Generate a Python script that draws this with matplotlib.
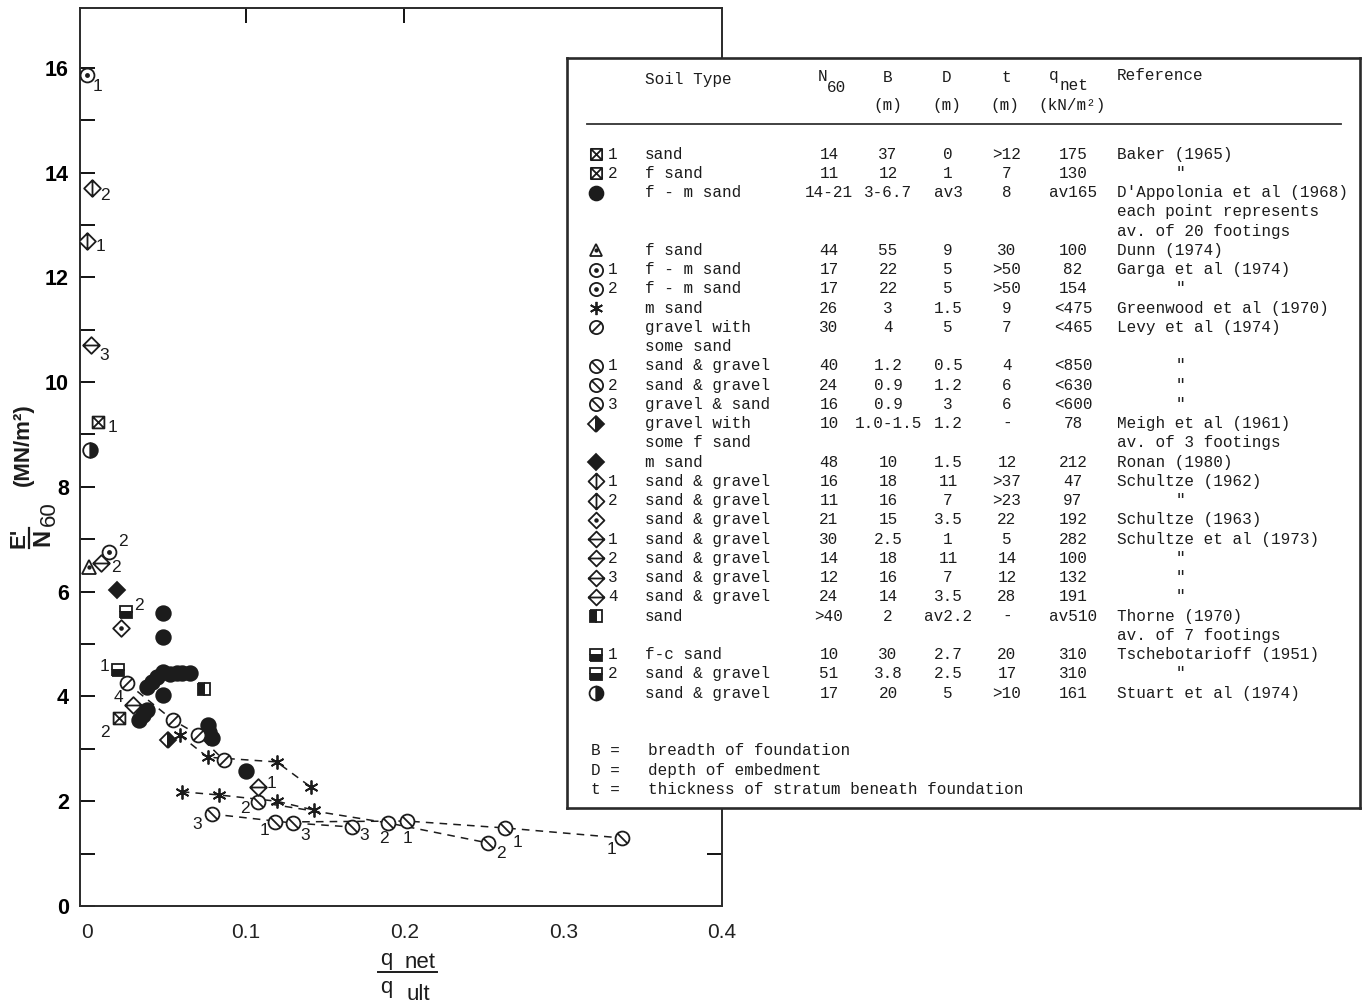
import numpy as np
import matplotlib.pyplot as plt
from matplotlib.path import Path
from matplotlib.lines import Line2D

plt.rcParams['font.family'] = ['Liberation Sans', 'DejaVu Sans']

ink = '#1c1c1c'

# E'/N60 (MN/m2) against q_net/q_ult, one group per reference
baker_x = [0.007, 0.020]
baker_y = [9.24, 3.59]
baker_n = ['1', '2']

dapp_x = [0.048, 0.048, 0.0377, 0.041, 0.044, 0.048, 0.052, 0.0566, 0.060,
          0.065, 0.048, 0.0377, 0.035, 0.033, 0.076, 0.077, 0.079, 0.100]
dapp_y = [5.59, 5.13, 4.18, 4.27, 4.37, 4.47, 4.43, 4.45, 4.45,
          4.45, 4.03, 3.74, 3.65, 3.55, 3.45, 3.32, 3.20, 2.58]

dunn_x = [0.001]
dunn_y = [6.47]

garga_x = [0.0, 0.0138]
garga_y = [15.86, 6.76]
garga_n = ['1', '2']

green1_x = [0.0585, 0.076, 0.1195, 0.141]
green1_y = [3.26, 2.84, 2.75, 2.27]
green2_x = [0.0597, 0.083, 0.1195, 0.143]
green2_y = [2.18, 2.12, 2.00, 1.83]

levy_x = [0.025, 0.054, 0.070, 0.086]
levy_y = [4.26, 3.55, 3.27, 2.79]

levy1_x = [0.1182, 0.2013, 0.2635, 0.3371]
levy1_y = [1.603, 1.622, 1.489, 1.298]
levy2_x = [0.1075, 0.1899, 0.2528]
levy2_y = [1.985, 1.584, 1.202]
levy3_x = [0.0786, 0.1296, 0.1667]
levy3_y = [1.756, 1.584, 1.508]

meigh_x = [0.051]
meigh_y = [3.17]

ronan_x = [0.019]
ronan_y = [6.03]

sch62_x = [0.0, 0.003]
sch62_y = [12.7, 13.7]
sch62_n = ['1', '2']

sch63_x = [0.0214]
sch63_y = [5.30]

sch73_x = [0.108, 0.009, 0.0025, 0.029]
sch73_y = [2.27, 6.55, 10.7, 3.84]
sch73_n = ['1', '2', '3', '4']

thorne_x = [0.074]
thorne_y = [4.14]

tsch_x = [0.0195, 0.0245]
tsch_y = [4.50, 5.61]
tsch_n = ['1', '2']

stuart_x = [0.002]
stuart_y = [8.70]

# where the small series numbers sit around their symbols (pixels)
baker_off = [(14, -6), (-14, -15)]
garga_off = [(11, -11), (14, 10)]
sch62_off = [(14, -6), (13, -7)]
sch73_off = [(13, 4), (15, -5), (13, -10), (-15, 7)]
tsch_off = [(-13, 4), (13, 7)]
levy1_off = [(-10, -8), (1, -17), (12, -15), (-11, -12)]
levy2_off = [(-13, -6), (-5, -15), (13, -10)]
levy3_off = [(-15, -11), (12, -12), (13, -9)]

# table of soil records
tbl_sym = ['boxx', 'boxx', 'dot', 'tri', 'odot', 'odot', 'star', 'oslash',
           'obslash', 'obslash', 'obslash', 'dhalf', 'dfill', 'dvline',
           'dvline', 'ddot', 'dhline', 'dhline', 'dhline', 'dhline',
           'shalf', 'sbot', 'sbot', 'chalf']
tbl_num = ['1', '2', '', '', '1', '2', '', '', '1', '2', '3', '', '', '1',
           '2', '', '1', '2', '3', '4', '', '1', '2', '']
tbl_soil = ['sand', 'f sand', 'f - m sand', 'f sand', 'f - m sand',
            'f - m sand', 'm sand', 'gravel with\nsome sand', 'sand & gravel',
            'sand & gravel', 'gravel & sand', 'gravel with\nsome f sand',
            'm sand', 'sand & gravel', 'sand & gravel', 'sand & gravel',
            'sand & gravel', 'sand & gravel', 'sand & gravel', 'sand & gravel',
            'sand', 'f-c sand', 'sand & gravel', 'sand & gravel']
tbl_n60 = ['14', '11', '14-21', '44', '17', '17', '26', '30', '40', '24',
           '16', '10', '48', '16', '11', '21', '30', '14', '12', '24', '>40',
           '10', '51', '17']
tbl_b = ['37', '12', '3-6.7', '55', '22', '22', '3', '4', '1.2', '0.9',
         '0.9', '1.0-1.5', '10', '18', '16', '15', '2.5', '18', '16', '14',
         '2', '30', '3.8', '20']
tbl_d = ['0', '1', 'av3', '9', '5', '5', '1.5', '5', '0.5', '1.2', '3',
         '1.2', '1.5', '11', '7', '3.5', '1', '11', '7', '3.5', 'av2.2',
         '2.7', '2.5', '5']
tbl_t = ['>12', '7', '8', '30', '>50', '>50', '9', '7', '4', '6', '6', '-',
         '12', '>37', '>23', '22', '5', '14', '12', '28', '-', '20', '17',
         '>10']
tbl_q = ['175', '130', 'av165', '100', '82', '154', '<475', '<465', '<850',
         '<630', '<600', '78', '212', '47', '97', '192', '282', '100', '132',
         '191', 'av510', '310', '310', '161']
tbl_ref = ['Baker (1965)', '"',
           "D'Appolonia et al (1968)\neach point represents\nav. of 20 footings",
           'Dunn (1974)', 'Garga et al (1974)', '"', 'Greenwood et al (1970)',
           'Levy et al (1974)', '"', '"', '"',
           'Meigh et al (1961)\nav. of 3 footings', 'Ronan (1980)',
           'Schultze (1962)', '"', 'Schultze (1963)', 'Schultze et al (1973)',
           '"', '"', '"', 'Thorne (1970)\nav. of 7 footings',
           'Tschebotarioff (1951)', '"', 'Stuart et al (1974)']
notes_key = ['B =', 'D =', 't =']
notes_text = ['breadth of foundation', 'depth of embedment',
              'thickness of stratum beneath foundation']


# symbol shapes
M, L, C = Path.MOVETO, Path.LINETO, Path.CLOSEPOLY
circle = Path.unit_circle()
square = Path([(-1, -1), (1, -1), (1, 1), (-1, 1), (-1, -1)], [M, L, L, L, C])
diamond = Path([(0, -1), (1, 0), (0, 1), (-1, 0), (0, -1)], [M, L, L, L, C])


def seg(a, b):
    return Path([a, b], [M, L])


box_x = Path.make_compound_path(square, seg((-1, -1), (1, 1)), seg((-1, 1), (1, -1)))
oslash = Path.make_compound_path(circle, seg((-0.72, -0.72), (0.72, 0.72)))
obslash = Path.make_compound_path(circle, seg((-0.72, 0.72), (0.72, -0.72)))
dvline = Path.make_compound_path(diamond, seg((0, -1), (0, 1)))
dhline = Path.make_compound_path(diamond, seg((-1, 0), (1, 0)))

# (marker, size, face, fillstyle) layers for each symbol
styles = {
    'boxx': [(box_x, 8.5, 'white', 'full')],
    'dot': [('o', 10.5, ink, 'full')],
    'tri': [('^', 9.5, 'white', 'full'), ('o', 1.8, ink, 'full')],
    'odot': [('o', 10, 'white', 'full'), ('o', 2.2, ink, 'full')],
    'star': [((6, 2, 0), 10, ink, 'full')],
    'oslash': [(oslash, 10, 'white', 'full')],
    'obslash': [(obslash, 10, 'white', 'full')],
    'dhalf': [('D', 8.5, ink, 'right')],
    'dfill': [('D', 8.5, ink, 'full')],
    'dvline': [(dvline, 12, 'white', 'full')],
    'ddot': [(diamond, 12, 'white', 'full'), ('o', 2, ink, 'full')],
    'dhline': [(dhline, 12, 'white', 'full')],
    'shalf': [('s', 9, ink, 'left')],
    'sbot': [('s', 9, ink, 'bottom')],
    'chalf': [('o', 10.5, ink, 'right')],
}


def draw(axis, key, xs, ys, scale=1.0):
    for mk, ms, face, fill in styles[key]:
        axis.plot(xs, ys, ls='none', marker=mk, ms=ms * scale, mfc=face,
                  mec=ink, mew=1.3, fillstyle=fill, zorder=4)


def numbers(axis, xs, ys, labels, offs):
    for x, y, s, (dx, dy) in zip(xs, ys, labels, offs):
        axis.annotate(s, (x, y), xytext=(dx, dy), textcoords='offset pixels',
                      ha='center', va='center', fontsize=12.5, color=ink,
                      zorder=5)


W, H = 1365, 1007


def box(l, t, r, b):
    return [l / W, 1 - b / H, (r - l) / W, (b - t) / H]


fig = plt.figure(figsize=(W / 100, H / 100), dpi=100)
fig.patch.set_facecolor('white')

ax = fig.add_axes(box(80, 8, 722, 906))
ax.set_xlim(-0.0044, 0.4)
ax.set_ylim(0, 17.14)
for sp in ax.spines.values():
    sp.set_linewidth(1.4)
    sp.set_color('#2a2a2a')

ax.set_xticks([0, 0.1, 0.2, 0.3, 0.4])
ax.set_xticklabels(['0', '0.1', '0.2', '0.3', '0.4'])
ax.set_xticks([0.1, 0.2, 0.3], minor=True)
ax.tick_params(axis='x', which='major', length=0, pad=12, labelsize=15,
               labelcolor='#222222')
ax.tick_params(axis='x', which='minor', direction='in', length=11, width=1.3)
ax.set_yticks(range(0, 17, 2))
ax.set_yticks(range(1, 17, 2), minor=True)
ax.tick_params(axis='y', which='both', direction='in', length=11, width=1.3,
               pad=8, labelsize=15.5)
for lab in ax.get_yticklabels():
    lab.set_fontweight('bold')

top = ax.secondary_xaxis('top')
top.set_xticks([0.1, 0.2])
top.tick_params(direction='in', length=11, width=1.3, labeltop=False)
top.spines['top'].set_visible(False)
right = ax.secondary_yaxis('right')
right.set_yticks([1])
right.tick_params(direction='in', length=11, width=1.3, labelright=False)
right.spines['right'].set_visible(False)

# dashed connections
dash = dict(ls=(0, (5, 4)), color=ink, lw=1.1, zorder=2)
for xs, ys in [(levy_x, levy_y), (green1_x, green1_y), (green2_x, green2_y),
               (levy1_x, levy1_y), (levy2_x, levy2_y), (levy3_x, levy3_y)]:
    ax.plot(xs, ys, **dash)

draw(ax, 'boxx', baker_x, baker_y)
draw(ax, 'dot', dapp_x, dapp_y)
draw(ax, 'tri', dunn_x, dunn_y)
draw(ax, 'odot', garga_x, garga_y)
draw(ax, 'star', green1_x, green1_y)
draw(ax, 'star', green2_x, green2_y)
draw(ax, 'oslash', levy_x, levy_y)
draw(ax, 'obslash', levy1_x, levy1_y)
draw(ax, 'obslash', levy2_x, levy2_y)
draw(ax, 'obslash', levy3_x, levy3_y)
draw(ax, 'dhalf', meigh_x, meigh_y)
draw(ax, 'dfill', ronan_x, ronan_y)
draw(ax, 'dvline', sch62_x, sch62_y)
draw(ax, 'ddot', sch63_x, sch63_y)
draw(ax, 'dhline', sch73_x, sch73_y)
draw(ax, 'shalf', thorne_x, thorne_y)
draw(ax, 'sbot', tsch_x, tsch_y)
draw(ax, 'chalf', stuart_x, stuart_y)

numbers(ax, baker_x, baker_y, baker_n, baker_off)
numbers(ax, garga_x, garga_y, garga_n, garga_off)
numbers(ax, sch62_x, sch62_y, sch62_n, sch62_off)
numbers(ax, sch73_x, sch73_y, sch73_n, sch73_off)
numbers(ax, tsch_x, tsch_y, tsch_n, tsch_off)
numbers(ax, levy1_x, levy1_y, ['1'] * len(levy1_x), levy1_off)
numbers(ax, levy2_x, levy2_y, ['2'] * len(levy2_x), levy2_off)
numbers(ax, levy3_x, levy3_y, ['3'] * len(levy3_x), levy3_off)

# axis titles
fig.text(19 / W, 1 - 538 / H, "E'", rotation=90, ha='center', va='center',
         fontsize=16, fontweight='bold', color=ink)
fig.add_artist(Line2D([29 / W, 29 / W], [1 - 528 / H, 1 - 548 / H],
                      color=ink, lw=1.6))
fig.text(43 / W, 1 - 537 / H, 'N', rotation=90, ha='center', va='center',
         fontsize=17, fontweight='bold', color=ink)
fig.text(49 / W, 1 - 514 / H, '60', rotation=90, ha='center', va='center',
         fontsize=16, color=ink)
fig.text(23 / W, 1 - 445 / H, '(MN/m²)', rotation=90, ha='center',
         va='center', fontsize=16, fontweight='bold', color=ink)

fig.text(386 / W, 1 - 960 / H, 'q', ha='center', va='center', fontsize=16,
         color=ink)
fig.text(420 / W, 1 - 962 / H, 'net', ha='center', va='center', fontsize=16,
         color=ink)
fig.add_artist(Line2D([378 / W, 437 / W], [1 - 972 / H, 1 - 972 / H],
                      color=ink, lw=1.4))
fig.text(386 / W, 1 - 988 / H, 'q', ha='center', va='center', fontsize=16,
         color=ink)
fig.text(418 / W, 1 - 994 / H, 'ult', ha='center', va='center', fontsize=16,
         color=ink)

# soil record table over the upper right of the plot
tx = fig.add_axes(box(567, 58, 1360, 808), zorder=10)
tx.set_xlim(567, 1360)
tx.set_ylim(808, 58)
tx.set_xticks([])
tx.set_yticks([])
tx.set_facecolor('white')
for sp in tx.spines.values():
    sp.set_linewidth(1.9)
    sp.set_color('#2a2a2a')

mono = dict(family=['Liberation Mono', 'DejaVu Sans Mono'], fontsize=11.5,
            color=ink, va='center')
tx.text(645, 79, 'Soil Type', ha='left', **mono)
tx.text(818, 76, 'N', ha='left', **mono)
tx.text(827, 87, '60', ha='left', **mono)
tx.text(888, 77, 'B', ha='center', **mono)
tx.text(947, 77, 'D', ha='center', **mono)
tx.text(1006, 77, 't', ha='center', **mono)
tx.text(1049, 75, 'q', ha='left', **mono)
tx.text(1060, 85, 'net', ha='left', **mono)
tx.text(1117, 75, 'Reference', ha='left', **mono)
for xc, s in [(888, '(m)'), (947, '(m)'), (1005, '(m)'), (1072, '(kN/m²)')]:
    tx.text(xc, 105, s, ha='center', **mono)
tx.plot([587, 1341], [124, 124], color='#333333', lw=1.3)

row_h = 19.25
line = 0
for i in range(len(tbl_sym)):
    y = 154 + line * row_h
    draw(tx, tbl_sym[i], [596], [y], scale=0.95)
    if tbl_num[i]:
        tx.text(608, y, tbl_num[i], ha='left', **mono)
    soil_lines = tbl_soil[i].split('\n')
    ref_lines = tbl_ref[i].split('\n')
    for k, part in enumerate(soil_lines):
        tx.text(645, y + k * row_h, part, ha='left', **mono)
    tx.text(829, y, tbl_n60[i], ha='center', **mono)
    tx.text(888, y, tbl_b[i], ha='center', **mono)
    tx.text(948, y, tbl_d[i], ha='center', **mono)
    tx.text(1007, y, tbl_t[i], ha='center', **mono)
    tx.text(1073, y, tbl_q[i], ha='center', **mono)
    if tbl_ref[i] == '"':
        tx.text(1180, y, '"', ha='center', **mono)
    else:
        for k, part in enumerate(ref_lines):
            tx.text(1117, y + k * row_h, part, ha='left', **mono)
    line += max(len(soil_lines), len(ref_lines))

for k, (key, text) in enumerate(zip(notes_key, notes_text)):
    y = 154 + (31 + k) * row_h
    tx.text(591, y, key, ha='left', **mono)
    tx.text(648, y, text, ha='left', **mono)

fig.savefig('out.png', dpi=100, facecolor='white')
